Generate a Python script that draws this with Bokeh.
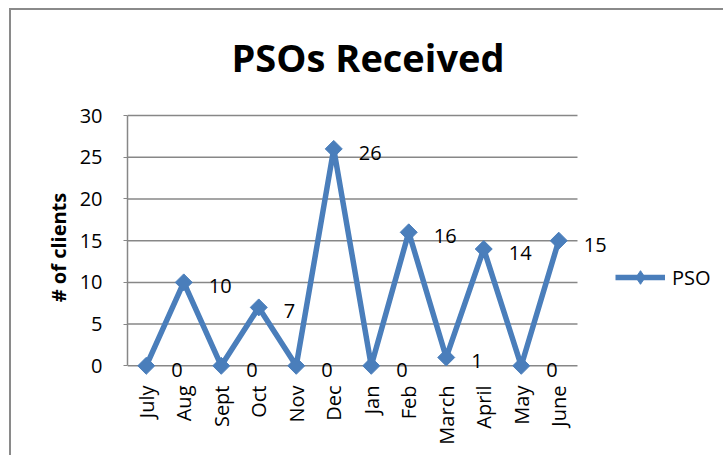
import numpy as np
from bokeh.plotting import figure
from bokeh.models import (ColumnDataSource, Range1d, LabelSet, Legend, LegendItem, FixedTicker, Title)
from bokeh.core.properties import value
from bokeh.embed import file_html
from bokeh.resources import INLINE

months = ["July", "Aug", "Sept", "Oct", "Nov", "Dec", "Jan", "Feb", "March", "April", "May", "June"]
pso = [0, 10, 0, 7, 0, 26, 0, 16, 1, 14, 0, 15]
y_ticks = [0, 5, 10, 15, 20, 25, 30]

FONT = "Open Sans"
BLUE = "#4A7EBB"
GREY = "#878787"

xs = list(range(len(months)))
src = ColumnDataSource(dict(x=xs, y=pso, lab=[str(v) for v in pso]))

n = len(months)
p = figure(width=714, height=447, x_range=Range1d(-0.5, n - 0.5 + 3.947), y_range=Range1d(-2, 30.36),
           output_backend="svg", toolbar_location=None,
           min_border_left=116, min_border_right=0, min_border_top=102, min_border_bottom=75,
           styles={"border-left": "2px solid #8a8a8a", "border-top": "2px solid #8a8a8a",
                   "margin-left": "9px", "margin-top": "8px"})
p.outline_line_color = None
p.background_fill_color = "white"

p.title.text = "PSOs Received"
p.title.text_font = FONT
p.title.text_font_size = "38px"
p.title.text_font_style = "bold"
p.title.text_color = "black"
p.title.align = "left"
p.title.vertical_align = "top"
p.title.offset = 104
p.title.standoff = 37

# thin spacer between the title and the plot area
p.add_layout(Title(text=" ", text_font_size="1px", standoff=6), "above")

p.xgrid.grid_line_color = None
p.ygrid.grid_line_color = None

# horizontal gridlines limited to the category area
p.segment(x0=[-0.5] * len(y_ticks), x1=[n - 0.5] * len(y_ticks), y0=y_ticks, y1=y_ticks,
          line_color=GREY, line_width=1.5)

for ax in (p.xaxis[0], p.yaxis[0]):
    ax.axis_line_color = GREY
    ax.axis_line_width = 1.5
    ax.major_tick_line_color = GREY
    ax.minor_tick_line_color = None
    ax.major_label_text_font = FONT
    ax.major_label_text_font_size = "20px"
    ax.major_label_text_color = "black"

p.xaxis.ticker = FixedTicker(ticks=xs)
p.xaxis.major_label_overrides = {i: m for i, m in zip(xs, months)}
p.xaxis.axis_line_color = None
p.xaxis.major_tick_out = 0
p.xaxis.major_tick_in = 0
p.xaxis.major_label_orientation = np.pi / 2
p.xaxis.major_label_standoff = 3

p.yaxis.ticker = FixedTicker(ticks=y_ticks)
p.yaxis.bounds = (0, 30)
p.yaxis.major_tick_out = 4
p.yaxis.major_tick_in = 0
p.yaxis.major_label_standoff = 21
p.yaxis.axis_label = "# of clients"
p.yaxis.axis_label_text_font = FONT
p.yaxis.axis_label_text_font_size = "20px"
p.yaxis.axis_label_text_font_style = "bold"
p.yaxis.axis_label_text_color = "black"
p.yaxis.axis_label_standoff = 5

ln = p.line("x", "y", source=src, line_color=BLUE, line_width=5.5)
mk = p.scatter("x", "y", source=src, marker="square", angle=np.pi / 4, size=12,
               fill_color=BLUE, line_color=BLUE)
# hidden diamond renderer used only for the legend symbol
mk_leg = p.scatter("x", "y", source=src, marker="diamond", size=12,
                   fill_color=BLUE, line_color=BLUE, visible=False)

labels = LabelSet(x="x", y="y", text="lab", source=src, x_offset=25, y_offset=-4,
                  text_align="left", text_baseline="middle", text_font=value(FONT),
                  text_font_size="20px", text_color="black")
p.add_layout(labels)

legend = Legend(items=[LegendItem(label="PSO", renderers=[ln, mk_leg])], location=(488, 88),
                glyph_width=50, glyph_height=34, label_standoff=7, padding=0, margin=0,
                border_line_alpha=0, background_fill_alpha=0, inactive_fill_alpha=0,
                label_text_font=FONT, label_text_font_size="20px", label_text_color="black")
p.add_layout(legend)

open("out.html", "w").write(file_html(p, INLINE))
